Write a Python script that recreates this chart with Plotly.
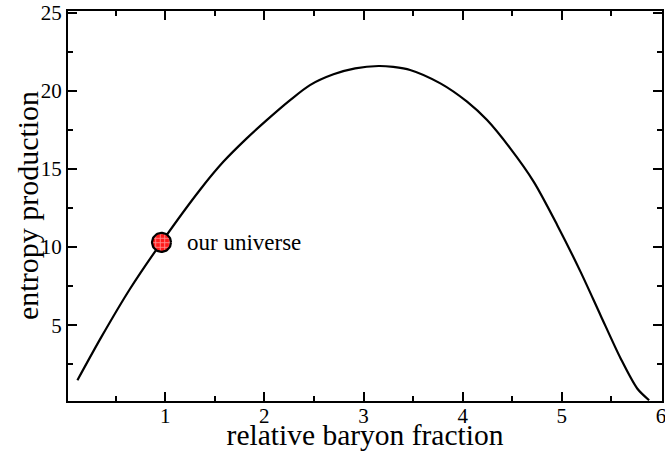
import numpy as np
import plotly.graph_objects as go

# data
curve_x = [0.115, 0.357, 0.643, 0.963, 1.35, 1.586, 1.822, 2.024, 2.26, 2.46, 2.697, 2.916, 3.152,
           3.30, 3.47, 3.775, 4.044, 4.246, 4.48, 4.717, 4.954, 5.189, 5.39, 5.593, 5.76, 5.88]
curve_y = [1.48, 4.25, 7.3, 10.3, 13.65, 15.45, 16.95, 18.12, 19.4, 20.36, 21.05, 21.43, 21.58,
           21.52, 21.33, 20.47, 19.3, 18.12, 16.31, 14.17, 11.4, 8.41, 5.64, 2.87, 0.95, 0.2]
point_x = [0.963]
point_y = [10.3]
point_label = ["our universe"]
x_ticks = [1, 2, 3, 4, 5, 6]
y_ticks = [5, 10, 15, 20, 25]

W, H = 665, 451
ML, MR, MT, MB = 68, 3, 11, 50
XR = [0.02, 6.01]
YR = [0.15, 25.1]
FONT = "Liberation Serif"

px_per_x = (W - ML - MR) / (XR[1] - XR[0])
px_per_y = (H - MT - MB) / (YR[1] - YR[0])

fig = go.Figure()
fig.add_trace(go.Scatter(x=curve_x, y=curve_y, mode="lines",
                         line=dict(color="black", width=2.2, shape="spline", smoothing=0.8),
                         hoverinfo="skip", showlegend=False))

# hatched circle marker drawn as a filled ellipse in data space (round on screen)
r_px = 9.5
t = np.linspace(0, 2 * np.pi, 60)
for px_, py_ in zip(point_x, point_y):
    cx = px_ + (r_px / px_per_x) * np.cos(t)
    cy = py_ + (r_px / px_per_y) * np.sin(t)
    fig.add_trace(go.Scatter(x=cx, y=cy, mode="lines", fill="toself",
                             fillcolor="#ff2020",
                             fillpattern=dict(shape="+", bgcolor="#ff1a1a", fgcolor="white",
                                              size=4.5, solidity=0.35),
                             line=dict(color="black", width=2.2),
                             hoverinfo="skip", showlegend=False))

for px_, py_, lab in zip(point_x, point_y, point_label):
    fig.add_annotation(x=px_, y=py_, text=lab, showarrow=False, xanchor="left",
                       yanchor="middle", xshift=23,
                       font=dict(family=FONT, size=23, color="black"))

# y-axis title as annotation for precise placement
fig.add_annotation(xref="paper", yref="paper", x=(27 - ML) / (W - ML - MR),
                   y=(H - MB - 206) / (H - MT - MB), text="entropy production",
                   textangle=-90, showarrow=False, xanchor="center", yanchor="middle",
                   font=dict(family=FONT, size=30, color="black"))

axis_common = dict(showline=True, linecolor="black", linewidth=2, mirror="ticks",
                   ticks="inside", ticklen=9, tickwidth=1.5, tickcolor="black",
                   showgrid=False, zeroline=False, ticklabeloverflow="allow",
                   tickfont=dict(family=FONT, size=21, color="black"))

fig.update_xaxes(range=XR, tickvals=x_ticks, ticktext=[str(v) for v in x_ticks],
                 ticklabelstandoff=-5,
                 minor=dict(dtick=0.5, tick0=0, ticks="inside", ticklen=5, tickcolor="black", tickwidth=1.5),
                 title=dict(text="relative baryon fraction", font=dict(family=FONT, size=29.5, color="black"), standoff=0),
                 **axis_common)
fig.update_yaxes(range=YR, tickvals=y_ticks, ticktext=[str(v) for v in y_ticks],
                 minor=dict(dtick=2.5, tick0=0, ticks="inside", ticklen=5, tickcolor="black", tickwidth=1.5),
                 **axis_common)

fig.update_layout(width=W, height=H, margin=dict(l=ML, r=MR, t=MT, b=MB, autoexpand=False),
                  plot_bgcolor="white", paper_bgcolor="white")

fig.write_html("out.html", config={"displayModeBar": False},
               post_script="document.body.style.margin='0';document.body.style.overflow='hidden';")
